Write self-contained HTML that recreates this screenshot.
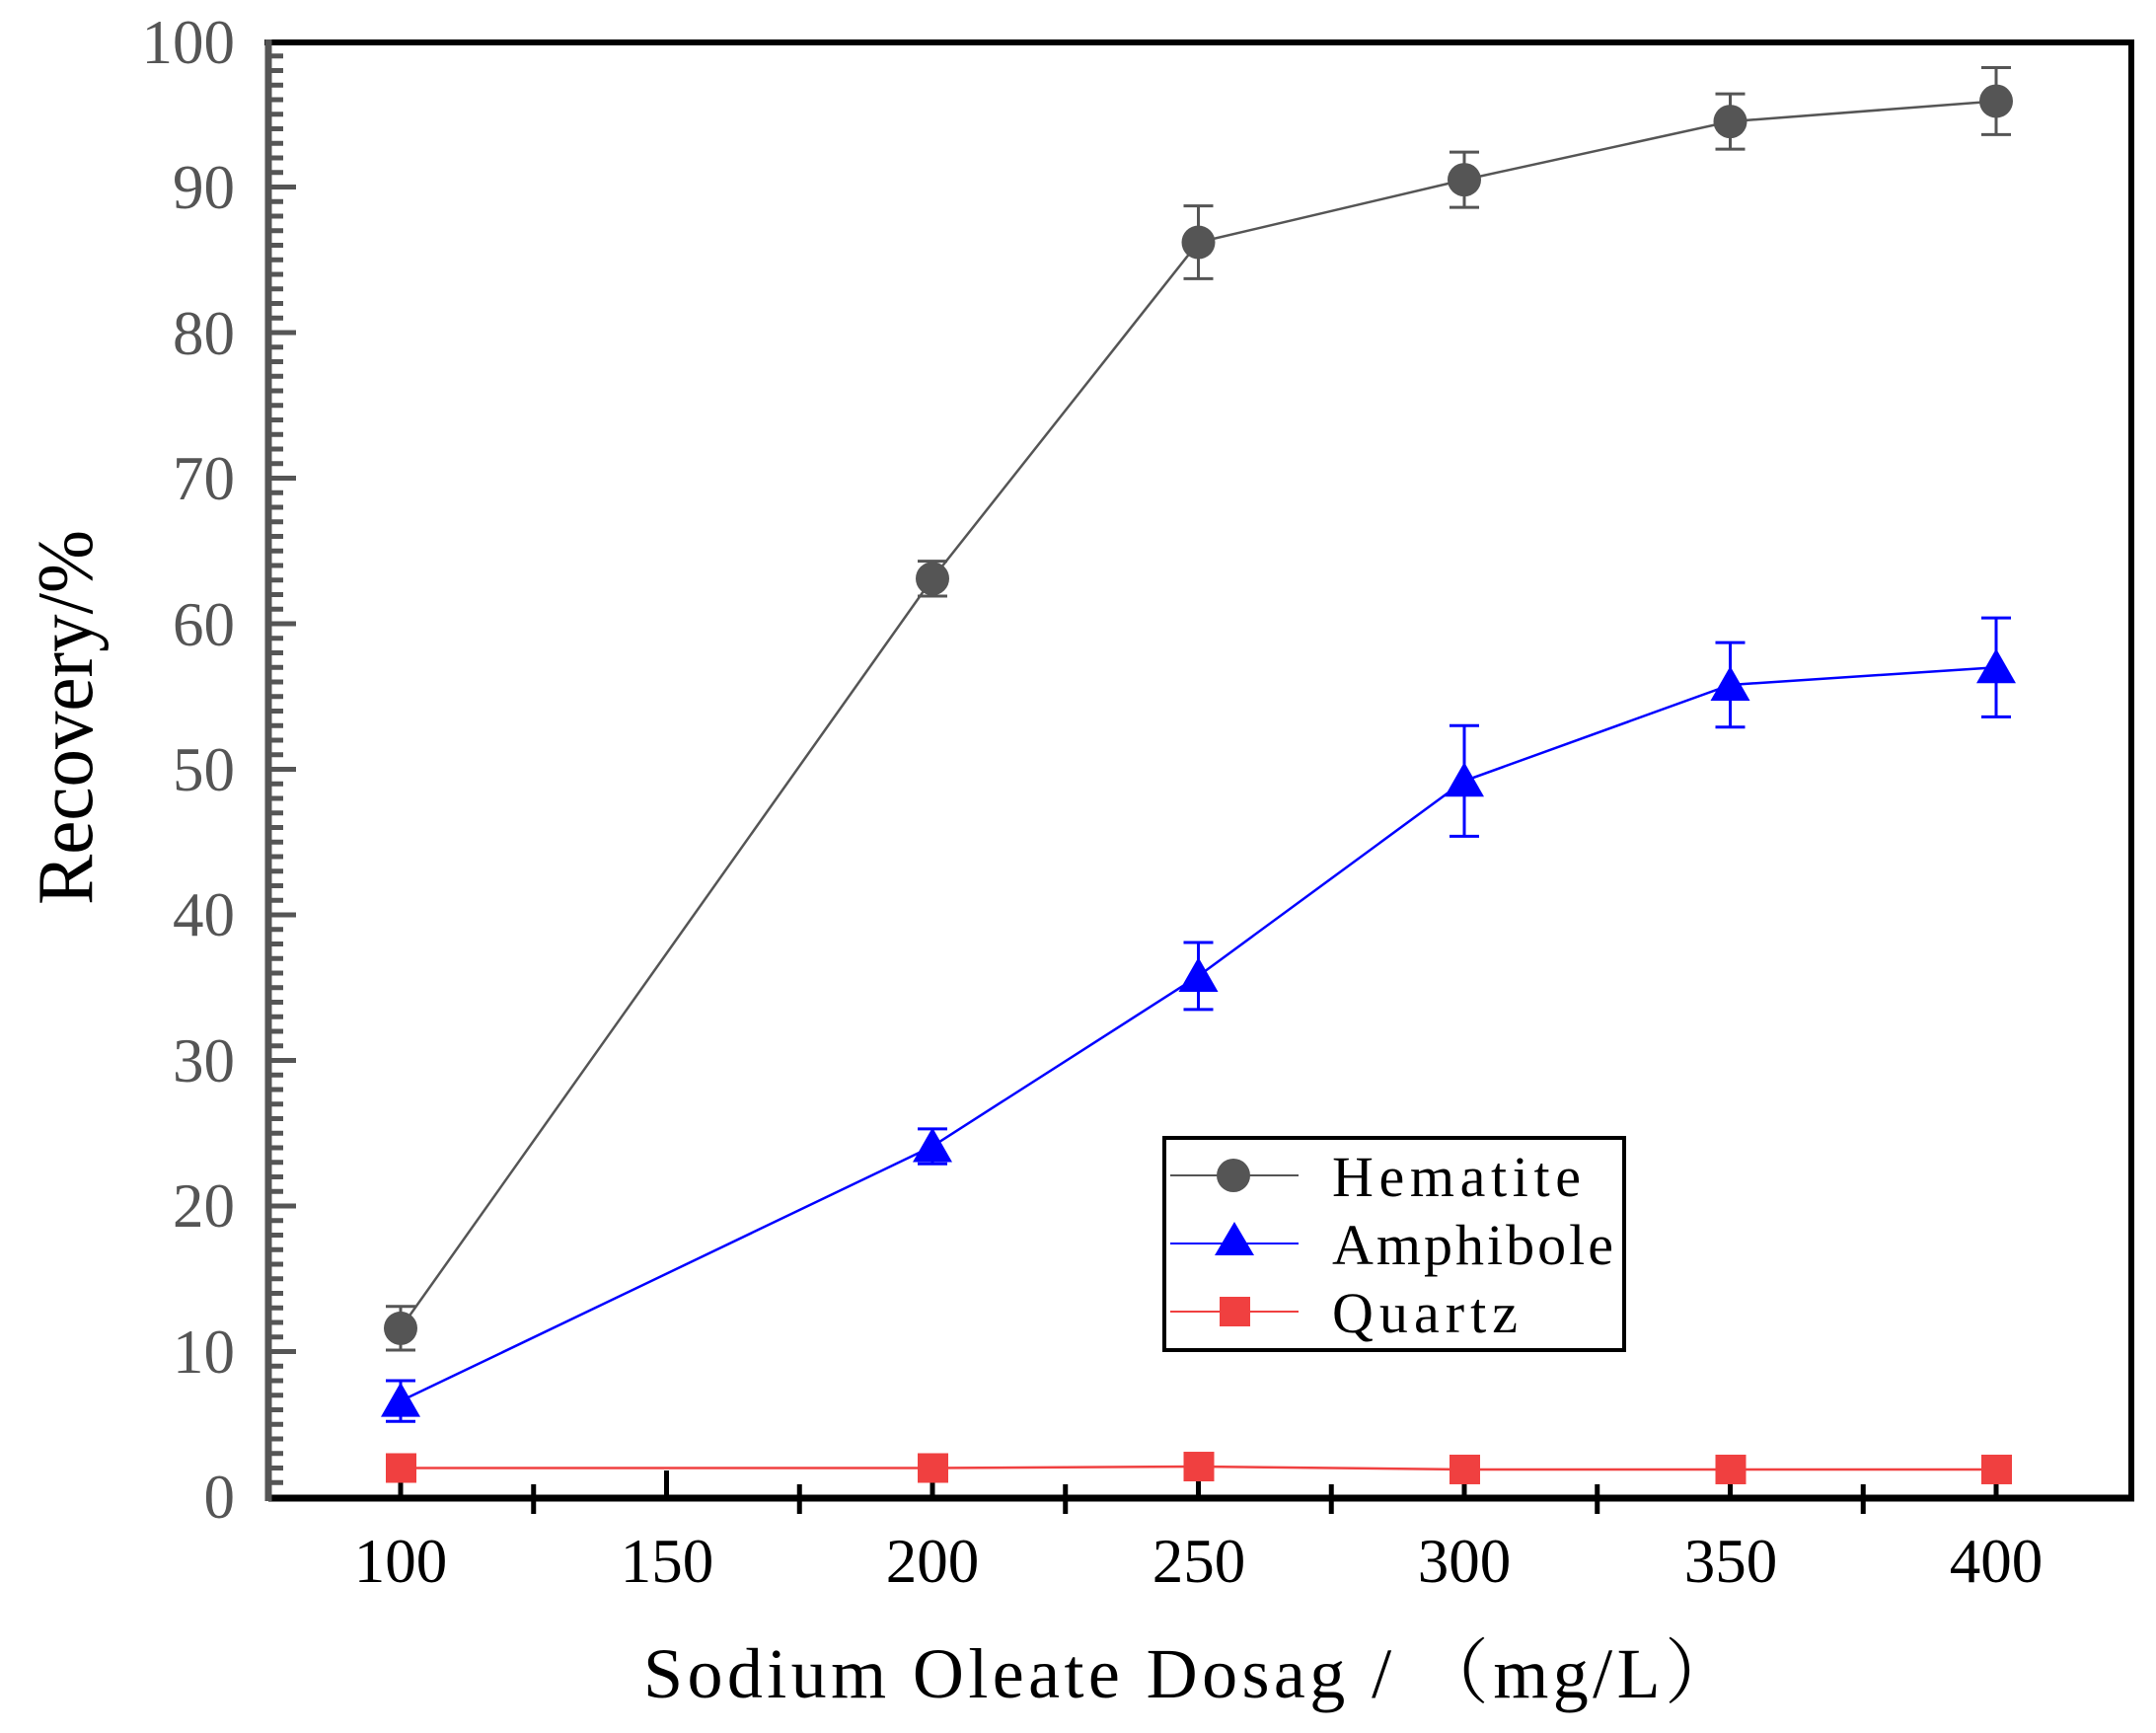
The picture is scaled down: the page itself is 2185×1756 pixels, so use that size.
<!DOCTYPE html>
<html><head><meta charset="utf-8"><style>html,body{margin:0;padding:0;background:#fff}svg{display:block}</style></head>
<body>
<svg width="2185" height="1756" viewBox="0 0 2185 1756" xmlns="http://www.w3.org/2000/svg">
<rect width="2185" height="1756" fill="#fff"/>
<!-- frame -->
<line x1="268" y1="43" x2="2163" y2="43" stroke="#000" stroke-width="6"/>
<line x1="2160" y1="40" x2="2160" y2="1521" stroke="#000" stroke-width="6"/>
<line x1="272" y1="1518" x2="2163" y2="1518" stroke="#000" stroke-width="7"/>
<line x1="272" y1="40" x2="272" y2="1521" stroke="#555" stroke-width="7"/>
<g id="yt"></g>
<g id="xt"></g>
<g id="data"></g>
<!-- y tick labels -->
<g font-family="Liberation Serif, serif" font-size="63" fill="#555" text-anchor="end">
<text x="238" y="64">100</text><text x="238" y="211">90</text><text x="238" y="359">80</text><text x="238" y="506">70</text><text x="238" y="654">60</text><text x="238" y="801">50</text><text x="238" y="948">40</text><text x="238" y="1096">30</text><text x="238" y="1243">20</text><text x="238" y="1391">10</text><text x="238" y="1538">0</text>
</g>
<g font-family="Liberation Serif, serif" font-size="63" fill="#000" text-anchor="middle">
<text x="406" y="1603">100</text><text x="676" y="1603">150</text><text x="945" y="1603">200</text><text x="1215" y="1603">250</text><text x="1484" y="1603">300</text><text x="1754" y="1603">350</text><text x="2023" y="1603">400</text>
</g>
<text x="652" y="1720" font-family="Liberation Serif, 'Noto Serif CJK SC', serif" font-size="72" textLength="1107" lengthAdjust="spacing">Sodium Oleate Dosag / （mg/L）</text>
<text transform="translate(93,917) rotate(-90)" font-family="Liberation Serif, serif" font-size="80" textLength="380" lengthAdjust="spacingAndGlyphs">Recovery/%</text>
<!-- legend -->
<rect x="1180" y="1153" width="466" height="215" fill="#fff" stroke="#000" stroke-width="4"/>
<line x1="1186" y1="1191" x2="1316" y2="1191" stroke="#555" stroke-width="2"/>
<circle cx="1250" cy="1191" r="17" fill="#555"/>
<line x1="1186" y1="1260" x2="1316" y2="1260" stroke="#00f" stroke-width="2"/>
<polygon points="1231,1272 1271,1272 1251,1238" fill="#00f"/>
<line x1="1186" y1="1329" x2="1316" y2="1329" stroke="#f04040" stroke-width="2"/>
<rect x="1236" y="1314" width="31" height="30" fill="#f04040"/>
<g font-family="Liberation Serif, serif" font-size="58" fill="#000">
<text x="1350" y="1212" textLength="252" lengthAdjust="spacing">Hematite</text>
<text x="1350" y="1281" textLength="285" lengthAdjust="spacing">Amphibole</text>
<text x="1350" y="1350" textLength="188" lengthAdjust="spacing">Quartz</text>
</g>
<script>
const NS="http://www.w3.org/2000/svg";
function el(p,t,a){const e=document.createElementNS(NS,t);for(const k in a)e.setAttribute(k,a[k]);p.appendChild(e);return e;}
const Y=v=>1517-v*14.75, X=v=>406+(v-100)*5.39;
const yt=document.getElementById('yt');
for(let i=1;i<100;i++){const y=Y(i);const maj=i%10==0;el(yt,'rect',{x:272,y:y-2.5,width:maj?28:15,height:5,fill:'#555'});}
const xt=document.getElementById('xt');
for(let v=125;v<=400;v+=25){const x=X(v);const maj=v%50==0;el(xt,'rect',{x:x-2.5,y:maj?1490:1504,width:5,height:30,fill:'#000'});}
el(xt,'rect',{x:X(100)-2.5,y:1490,width:5,height:30,fill:'#000'});
const xs=[100,200,250,300,350,400];
const S=[
 {c:'#555',m:'c',y:[11.6,63.1,86.2,90.5,94.5,95.9],e:[1.5,1.2,2.5,1.9,1.9,2.3]},
 {c:'#00f',m:'t',y:[6.6,24.1,35.8,49.2,55.8,57.0],e:[1.4,1.2,2.3,3.8,2.9,3.4]},
 {c:'#f04040',m:'s',y:[2.0,2.0,2.1,1.9,1.9,1.9],e:[0,0,0,0,0,0]}];
const d=document.getElementById('data');
S.forEach(s=>{
 el(d,'polyline',{points:xs.map((x,i)=>X(x)+','+Y(s.y[i])).join(' '),fill:'none',stroke:s.c,'stroke-width':2.5});
 xs.forEach((x,i)=>{const cx=X(x),cy=Y(s.y[i]);
  if(s.e[i]>0){const t=Y(s.y[i]+s.e[i]),b=Y(s.y[i]-s.e[i]);
   el(d,'line',{x1:cx,y1:t,x2:cx,y2:b,stroke:s.c,'stroke-width':3});
   el(d,'line',{x1:cx-15,y1:t,x2:cx+15,y2:t,stroke:s.c,'stroke-width':3});
   el(d,'line',{x1:cx-15,y1:b,x2:cx+15,y2:b,stroke:s.c,'stroke-width':3});}
  if(s.m=='c')el(d,'circle',{cx:cx,cy:cy,r:17,fill:s.c});
  else if(s.m=='t')el(d,'polygon',{points:`${cx-20},${cy+16} ${cx+20},${cy+16} ${cx},${cy-19}`,fill:s.c});
  else el(d,'rect',{x:cx-15,y:cy-15,width:31,height:30,fill:s.c});
 });
});
</script>
</svg>
</body></html>
